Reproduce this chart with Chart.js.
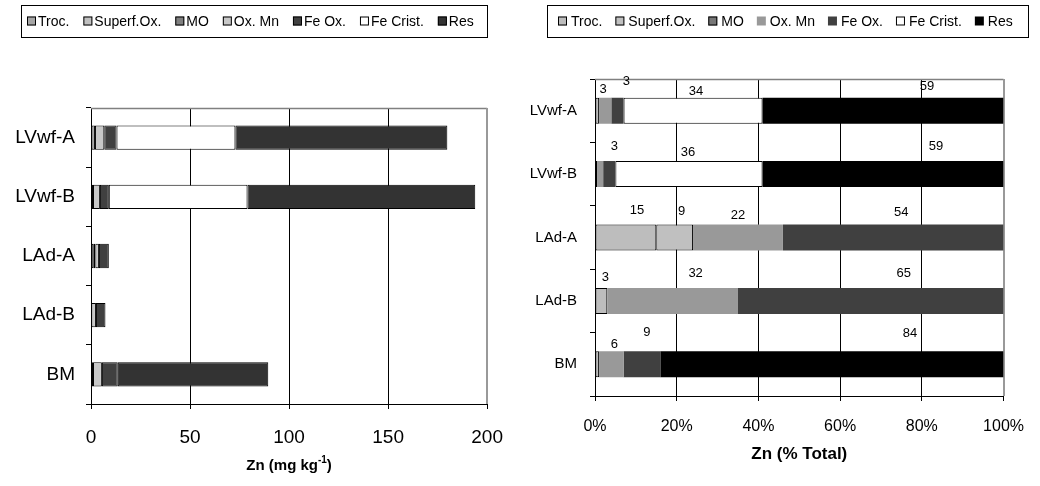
<!DOCTYPE html>
<html>
<head>
<meta charset="utf-8">
<script src="https://cdn.jsdelivr.net/npm/chart.js@4.4.1/dist/chart.umd.min.js"></script>
<style>
html,body{margin:0;padding:0;background:#fff;}
#wrap{position:relative;width:1040px;height:486px;}
canvas{position:absolute;top:0;}
#left{left:0;}
#right{left:520px;}
</style>
</head>
<body>
<div id="wrap">
<canvas id="left" width="520" height="486"></canvas>
<canvas id="right" width="520" height="486"></canvas>
</div>
<script>
const FONT = "'Liberation Sans', Arial, Helvetica, sans-serif";

// -----------------------------
// DATA
// -----------------------------

const categories = ["LVwf-A", "LVwf-B", "LAd-A", "LAd-B", "BM"];
const fractions = ["Troc.", "Superf.Ox.", "MO", "Ox. Mn", "Fe Ox.", "Fe Crist.", "Res"];

// Zn in mg/kg, one array per fraction
const trocMg    = [2, 1, 1.4, 0.2, 1];
const superfMg  = [0, 0, 0.8, 0, 0];
const moMg      = [0, 0, 0, 0, 0];
const oxMnMg    = [4.7, 3.5, 1.8, 2.3, 4.5];
const feOxMg    = [6.2, 4.5, 5, 4.8, 8];
const feCristMg = [60, 70, 0, 0, 0];
const resMg     = [107, 115, 0, 0, 76];

// Zn as % of total
const trocPct    = [1, 0.5, 15, 3, 1];
const superfPct  = [0, 0, 9, 0, 0];
const moPct      = [0, 0, 0, 0, 0];
const oxMnPct    = [3, 1.5, 22, 32, 6];
const feOxPct    = [3, 3, 54, 65, 9];
const feCristPct = [34, 36, 0, 0, 0];
const resPct     = [59, 59, 0, 0, 84];

const mgTicks = [0, 50, 100, 150, 200];
const pctTicks = [0, 20, 40, 60, 80, 100];

// -----------------------------
// HELPERS
// -----------------------------

Chart.defaults.font.family = FONT;
Chart.defaults.color = "#000";

function series(label, values, color, border){
return {
label: label,
data: values.map(v => v || null),
backgroundColor: color,
borderColor: "#000",
borderWidth: border,
borderSkipped: false
};
}

// grey top and right edge of the plot area
const plotFrame = {
id: "plotFrame",
beforeDatasetsDraw(chart){
const ctx = chart.ctx;
const a = chart.chartArea;
ctx.save();
ctx.strokeStyle = "#808080";
ctx.lineWidth = 1.5;
ctx.beginPath();
ctx.moveTo(a.left, Math.round(a.top) + 0.5);
ctx.lineTo(a.right, Math.round(a.top) + 0.5);
ctx.stroke();
ctx.strokeStyle = "#999";
ctx.lineWidth = 2;
ctx.beginPath();
ctx.moveTo(Math.round(a.right), a.top);
ctx.lineTo(Math.round(a.right), a.bottom);
ctx.stroke();
ctx.restore();
}
};

// boxed legend row across the top
const boxedLegend = {
id: "boxedLegend",
afterDraw(chart, args, opts){
const ctx = chart.ctx;
const [bx, by, bw, bh] = opts.box;
const midY = by + bh / 2;
ctx.save();
ctx.lineWidth = 1;
ctx.strokeStyle = "#000";
ctx.strokeRect(bx + 0.5, by + 0.5, bw, bh);
ctx.font = opts.fontSize + "px " + FONT;
ctx.textBaseline = "middle";
let x = opts.startX;
chart.data.datasets.forEach(ds => {
const m = opts.marker;
ctx.fillStyle = ds.backgroundColor;
ctx.fillRect(x, midY - m / 2, m, m);
if(ds.borderWidth > 0){
ctx.strokeRect(x + 0.5, midY - m / 2 + 0.5, m - 1, m - 1);
}
ctx.fillStyle = "#000";
ctx.fillText(ds.label, x + opts.textGap, midY + 1);
x += opts.textGap + ctx.measureText(ds.label).width + opts.gap;
});
ctx.restore();
}
};

// value labels above the segments of the % chart
const segmentLabels = {
id: "segmentLabels",
afterDatasetsDraw(chart, args, opts){
if(!opts.nudge) return;
const ctx = chart.ctx;
ctx.save();
ctx.font = "13px " + FONT;
ctx.fillStyle = "#000";
ctx.textAlign = "center";
ctx.textBaseline = "middle";
chart.data.datasets.forEach((ds, di) => {
const meta = chart.getDatasetMeta(di);
meta.data.forEach((bar, i) => {
const v = ds.data[i];
if(v == null || v < 2) return;
const row = opts.nudge[chart.data.labels[i]] || {};
const n = row[ds.label] || [0, 10];
const cx = (bar.x + bar.base) / 2 + n[0];
const top = bar.y - bar.height / 2;
ctx.fillText(String(Math.round(v)), cx, top - n[1]);
});
});
ctx.restore();
}
};

// axis title with superscript unit
const unitTitle = {
id: "unitTitle",
afterDraw(chart, args, opts){
if(!opts.y) return;
const ctx = chart.ctx;
const a = chart.chartArea;
const cx = (a.left + a.right) / 2;
ctx.save();
ctx.textBaseline = "middle";
ctx.fillStyle = "#000";
const big = "bold 15px " + FONT;
const small = "bold 10px " + FONT;
ctx.font = big;
const w1 = ctx.measureText("Zn (mg kg").width;
const w3 = ctx.measureText(")").width;
ctx.font = small;
const w2 = ctx.measureText("-1").width;
let x = cx - (w1 + w2 + w3) / 2;
ctx.font = big;
ctx.fillText("Zn (mg kg", x, opts.y);
x += w1;
ctx.font = small;
ctx.fillText("-1", x, opts.y - 6);
x += w2;
ctx.font = big;
ctx.fillText(")", x, opts.y);
ctx.restore();
}
};

function valueAxis(ticks, height, fontSize, pad, fmt){
return {
stacked: true,
min: ticks[0],
max: ticks[ticks.length - 1],
afterBuildTicks: s => { s.ticks = ticks.map(v => ({value: v})); },
afterFit: s => { s.height = height; },
ticks: {font: {size: fontSize}, padding: pad, color: "#000", callback: fmt},
grid: {
color: c => (c.tick && c.tick.value === ticks[ticks.length - 1]) ? "rgba(0,0,0,0)" : "#000",
tickColor: "#000",
tickLength: 5
},
border: {color: "#000", width: 1}
};
}

function categoryAxis(width, fontSize, pad){
return {
stacked: true,
afterFit: s => { s.width = width; },
ticks: {font: {size: fontSize}, padding: pad, color: "#000"},
grid: {
offset: true,
drawOnChartArea: false,
tickColor: "#000",
tickLength: 5
},
border: {color: "#000", width: 1}
};
}

// -----------------------------
// LEFT: mg/kg
// -----------------------------

const leftChart = new Chart(document.getElementById("left"), {
type: "bar",
data: {
labels: categories,
datasets: [
series(fractions[0], trocMg, "#a6a6a6", 1),
series(fractions[1], superfMg, "#c0c0c0", 1),
series(fractions[2], moMg, "#808080", 1),
series(fractions[3], oxMnMg, "#c8c8c8", 1),
series(fractions[4], feOxMg, "#404040", 1),
series(fractions[5], feCristMg, "#ffffff", 1),
series(fractions[6], resMg, "#333333", 1)
]
},
options: {
responsive: false,
animation: false,
devicePixelRatio: 1,
indexAxis: "y",
barPercentage: 0.41,
categoryPercentage: 1,
layout: {padding: {top: 108, right: 31, left: 0, bottom: 0}},
plugins: {
legend: {display: false},
tooltip: {enabled: false},
boxedLegend: {box: [21, 5, 466, 32], startX: 27, marker: 9, textGap: 11, gap: 14, fontSize: 14},
unitTitle: {y: 466}
},
scales: {
x: valueAxis(mgTicks, 82, 19, 17, v => v),
y: categoryAxis(91, 19, 11)
}
},
plugins: [plotFrame, boxedLegend, unitTitle]
});

// -----------------------------
// RIGHT: % of total
// -----------------------------

const pctAxis = valueAxis(pctTicks, 90, 16, 16, v => v + "%");
pctAxis.title = {display: true, text: "Zn (% Total)", font: {size: 17, weight: "bold"}, padding: {top: 0, bottom: 21}};

const rightChart = new Chart(document.getElementById("right"), {
type: "bar",
data: {
labels: categories,
datasets: [
series(fractions[0], trocPct, "#bdbdbd", 1),
series(fractions[1], superfPct, "#c0c0c0", 1),
series(fractions[2], moPct, "#777777", 1),
series(fractions[3], oxMnPct, "#999999", 0),
series(fractions[4], feOxPct, "#404040", 0),
series(fractions[5], feCristPct, "#ffffff", 1),
series(fractions[6], resPct, "#000000", 0)
]
},
options: {
responsive: false,
animation: false,
devicePixelRatio: 1,
indexAxis: "y",
barPercentage: 0.41,
categoryPercentage: 1,
layout: {padding: {top: 79, right: 32, left: 0, bottom: 0}},
plugins: {
legend: {display: false},
tooltip: {enabled: false},
boxedLegend: {box: [27, 5, 481, 32], startX: 38, marker: 9, textGap: 13, gap: 13, fontSize: 14},
segmentLabels: {
nudge: {
"LVwf-A": {"Ox. Mn": [-2, 8], "Fe Ox.": [9, 16], "Fe Crist.": [3, 6], "Res": [44, 11]},
"LVwf-B": {"Fe Ox.": [5, 15], "Fe Crist.": [-1, 9], "Res": [53, 15]},
"LAd-A": {"Troc.": [11, 14], "Superf.Ox.": [7, 13], "Ox. Mn": [0, 9], "Fe Ox.": [8, 12]},
"LAd-B": {"Troc.": [4, 10], "Ox. Mn": [23, 14], "Fe Ox.": [33, 14]},
"BM": {"Ox. Mn": [3, 7], "Fe Ox.": [5, 19], "Res": [78, 18]}
}
}
},
scales: {
x: pctAxis,
y: categoryAxis(75, 15, 13)
}
},
plugins: [plotFrame, boxedLegend, segmentLabels]
});
</script>
</body>
</html>
